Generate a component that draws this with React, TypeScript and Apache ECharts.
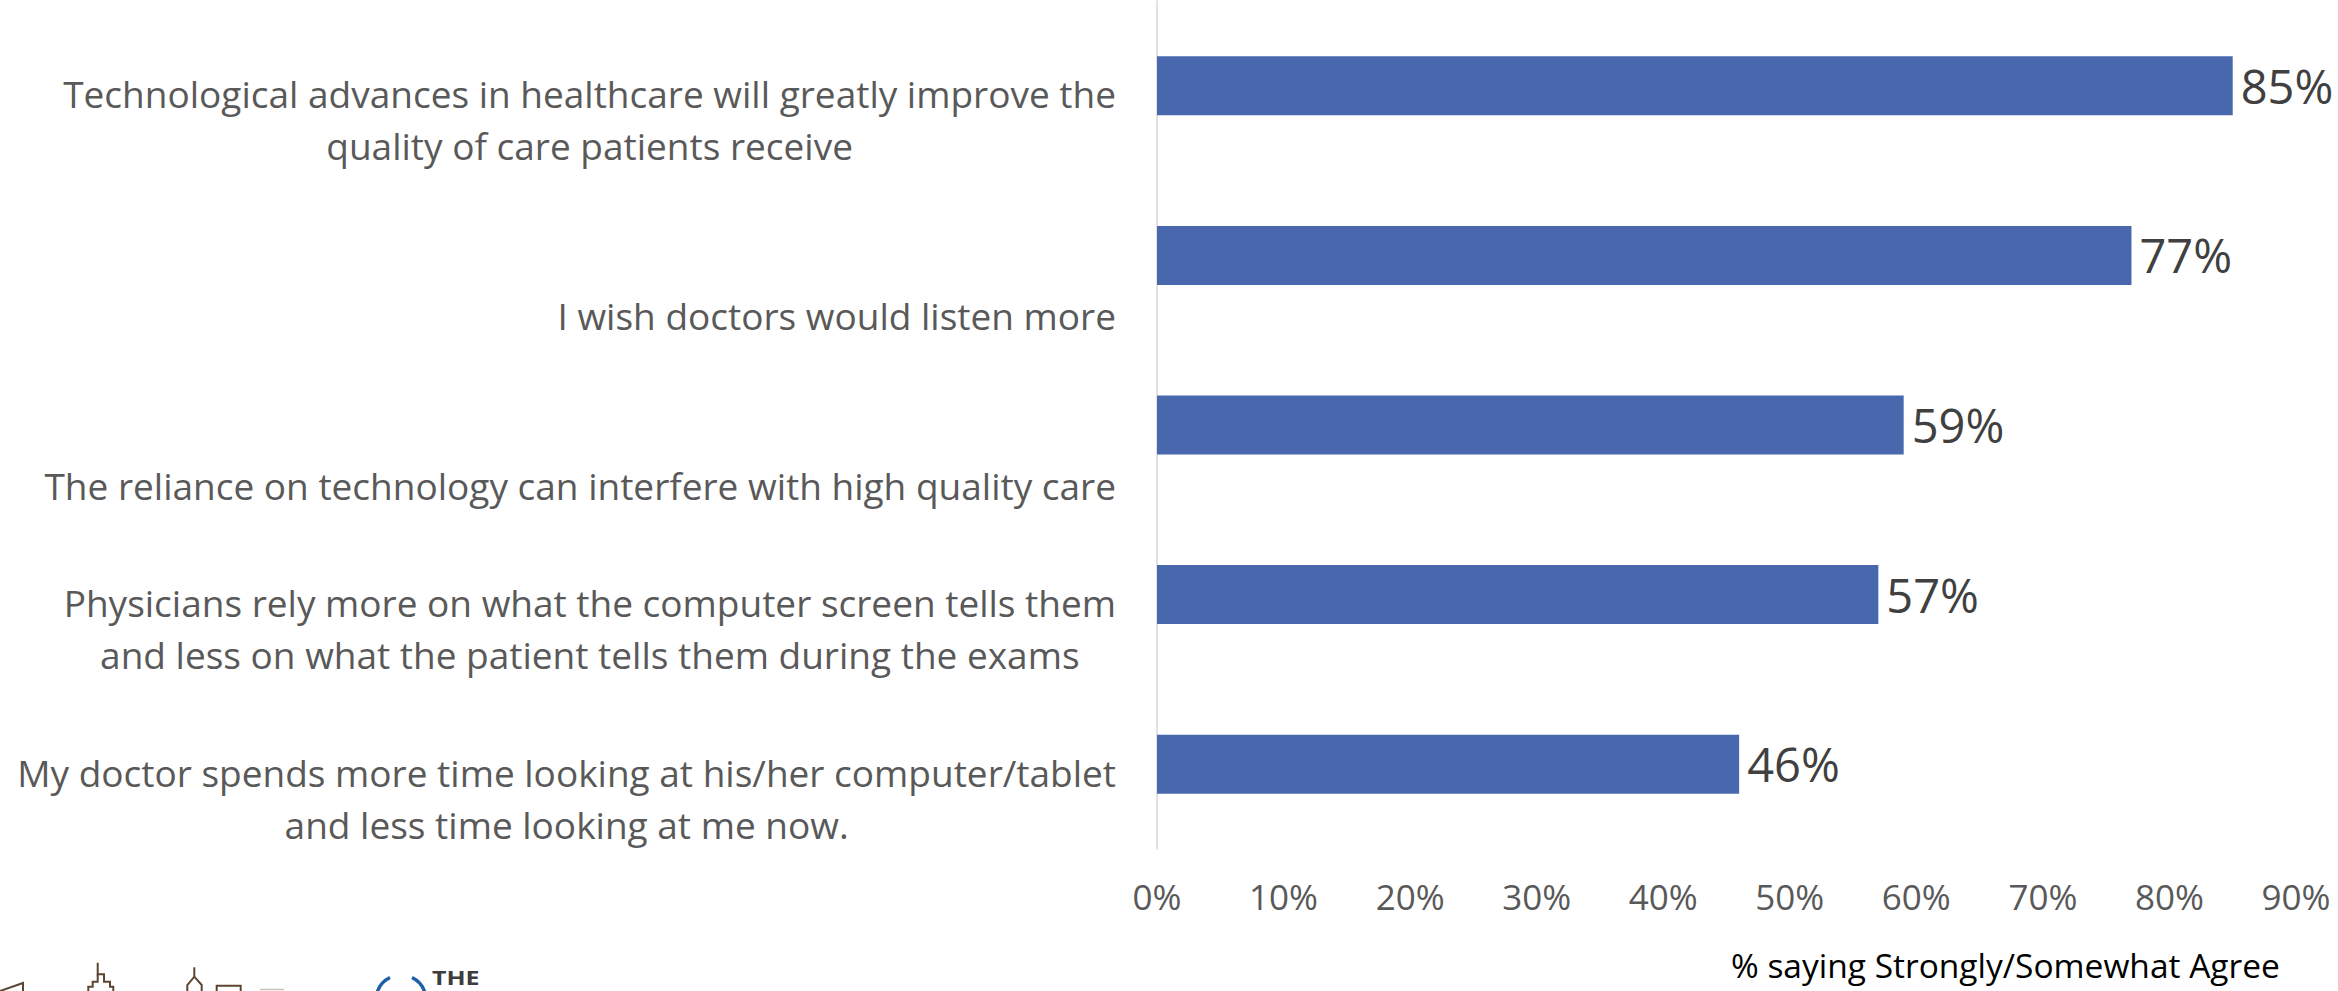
import React, { useEffect, useRef } from "react";
import * as echarts from "echarts";

const categories: string[] = [
  "Technological advances in healthcare will greatly improve the\nquality of care patients receive",
  "I wish doctors would listen more",
  "The reliance on technology can interfere with high quality care",
  "Physicians rely more on what the computer screen tells them\nand less on what the patient tells them during the exams",
  "My doctor spends more time looking at his/her computer/tablet\nand less time looking at me now.",
];
const values: number[] = [85, 77, 59, 57, 46];
const axisMin = 0;
const axisMax = 90;
const axisInterval = 10;
const axisTitle = "% saying Strongly/Somewhat Agree";

const FONT = "'Open Sans', 'Noto Sans', sans-serif";

export default function App() {
  const ref = useRef<HTMLDivElement>(null);
  useEffect(() => {
    if (!ref.current) return;
    const chart = echarts.init(ref.current, undefined, { renderer: "svg" });
    const brown = "#5b4632";
    chart.setOption({
      animation: false,
      backgroundColor: "#ffffff",
      grid: {
        left: 1157,
        right: 42,
        top: 1,
        bottom: 142,
        containLabel: false,
        outerBoundsMode: "none",
      },
      xAxis: {
        type: "value",
        min: axisMin,
        max: axisMax,
        interval: axisInterval,
        axisLine: { show: false },
        axisTick: { show: false },
        splitLine: { show: false },
        axisLabel: {
          formatter: "{value}%",
          color: "#595959",
          fontSize: 35,
          fontFamily: FONT,
          margin: 30,
          hideOverlap: false,
        },
      },
      yAxis: {
        type: "category",
        inverse: true,
        data: categories,
        axisLine: { show: true, lineStyle: { color: "#d9d9d9", width: 1.5 } },
        axisTick: { show: false },
        axisLabel: {
          interval: 0,
          margin: 41,
          align: "right",
          verticalAlign: "bottom",
          padding: [0, 0, -86, 0],
          formatter: (v: string) =>
            v
              .split("\n")
              .map((l) => `{c|${l}}`)
              .join("\n"),
          rich: {
            c: {
              align: "center",
              fontSize: 37,
              lineHeight: 52,
              color: "#595959",
              fontFamily: FONT,
            },
          },
        },
      },
      series: [
        {
          type: "bar",
          data: values,
          barWidth: 59,
          itemStyle: { color: "#4967ac" },
          label: {
            show: true,
            position: "right",
            distance: 8,
            formatter: "{c}%",
            fontSize: 47,
            color: "#404040",
            fontFamily: FONT,
          },
        },
      ],
      graphic: [
        {
          type: "text",
          left: 1731,
          top: 948,
          style: {
            text: axisTitle,
            fontSize: 33.5,
            fontFamily: FONT,
            fill: "#000000",
          },
        },
        {
          type: "group",
          silent: true,
          children: [
            { type: "polyline", shape: { points: [[0, 991], [23, 983], [23, 991]] }, style: { stroke: brown, lineWidth: 2, fill: "none" } },
            { type: "polyline", shape: { points: [[97.7, 962.7], [97.7, 974.3], [104, 974.3], [104, 981.7], [110, 981.7], [110, 986.7], [113.3, 986.7], [113.3, 991]] }, style: { stroke: brown, lineWidth: 2, fill: "none" } },
            { type: "polyline", shape: { points: [[97.7, 974.3], [97.7, 981.7], [92.7, 981.7], [92.7, 986.7], [88.3, 986.7], [88.3, 991]] }, style: { stroke: brown, lineWidth: 2, fill: "none" } },
            { type: "polyline", shape: { points: [[194.3, 967.3], [194.3, 976.7]] }, style: { stroke: brown, lineWidth: 2, fill: "none" } },
            { type: "polyline", shape: { points: [[187.3, 991], [187.3, 985], [194.3, 976.7], [201.7, 985], [201.7, 991]] }, style: { stroke: brown, lineWidth: 2, fill: "none" } },
            { type: "polyline", shape: { points: [[216.7, 991], [216.7, 985.7], [240.7, 985.7], [240.7, 991]] }, style: { stroke: brown, lineWidth: 2, fill: "none" } },
            { type: "line", shape: { x1: 260, y1: 989.5, x2: 284, y2: 989.5 }, style: { stroke: "#c9bfb3", lineWidth: 1.5 } },
            { type: "arc", shape: { cx: 401, cy: 1000, r: 25, startAngle: Math.PI * 1.05, endAngle: Math.PI * 1.355 }, style: { stroke: "#1f5fa8", lineWidth: 3.5, fill: "none" } },
            { type: "arc", shape: { cx: 401, cy: 1000, r: 25, startAngle: Math.PI * 1.645, endAngle: Math.PI * 1.95 }, style: { stroke: "#1f5fa8", lineWidth: 3.5, fill: "none" } },
            { type: "text", x: 432, y: 967, scaleX: 1.25, style: { text: "THE", fontSize: 20, fontWeight: "bold", fontFamily: FONT, fill: "#3d3d3d" } },
          ],
        },
      ],
    });
    return () => chart.dispose();
  }, []);
  return (
    <div
      ref={ref}
      style={{ position: "absolute", left: 0, top: 0, width: 2338, height: 991 }}
    />
  );
}
